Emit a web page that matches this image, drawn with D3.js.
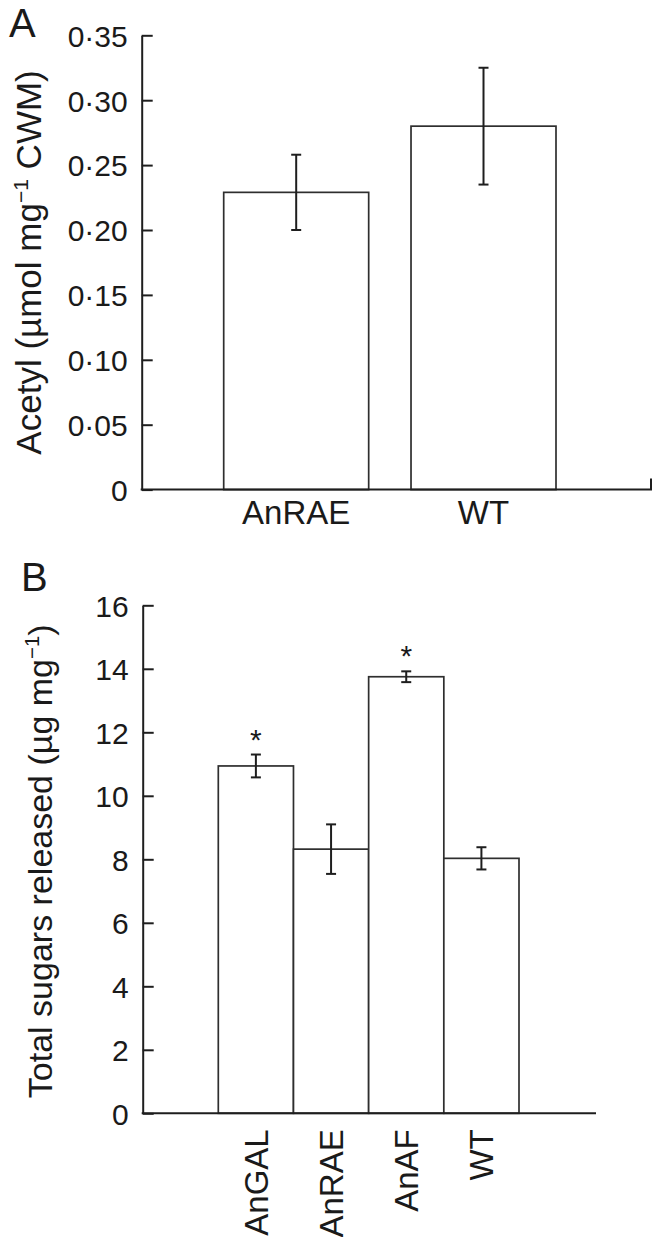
<!DOCTYPE html>
<html><head><meta charset="utf-8">
<script src="https://cdn.jsdelivr.net/npm/d3@7"></script>
<style>
html,body{margin:0;padding:0;background:#fff;}
svg text{font-family:"Liberation Sans",Arial,Helvetica,sans-serif;fill:#1a1a1a;}
</style></head>
<body>
<svg id="chart" width="653" height="1237"></svg>
<script>
// ---- Panel A data ----
const catsA = ["AnRAE", "WT"];
const valsA = [0.229, 0.280];
const errsA = [0.029, 0.045];
const ticksA = [0, 0.05, 0.10, 0.15, 0.20, 0.25, 0.30, 0.35];
const tickLabelsA = ["0", "0·05", "0·10", "0·15", "0·20", "0·25", "0·30", "0·35"];

// ---- Panel B data ----
const catsB = ["AnGAL", "AnRAE", "AnAF", "WT"];
const valsB = [10.94, 8.32, 13.75, 8.03];
const errsB = [0.36, 0.78, 0.17, 0.35];
const sigB = [true, false, true, false];
const ticksB = [0, 2, 4, 6, 8, 10, 12, 14, 16];
const tickLabelsB = ["0", "2", "4", "6", "8", "10", "12", "14", "16"];

const svg = d3.select("#chart");
const AX = "#1e1e1e", BAR = "#2e2e2e";

function panel(cfg) {
  const g = svg.append("g");
  const y = d3.scaleLinear().domain(cfg.yDomain).range(cfg.yRange);
  const x = d3.scaleBand().domain(cfg.cats).range(cfg.xRange).paddingInner(cfg.pad).paddingOuter(0);
  const data = cfg.cats.map((c, i) => ({c, v: cfg.vals[i], e: cfg.errs[i], s: cfg.sig ? cfg.sig[i] : false}));

  // bars
  g.selectAll("rect.bar").data(data).join("rect")
    .attr("x", d => x(d.c)).attr("width", x.bandwidth())
    .attr("y", d => y(d.v)).attr("height", d => y(0) - y(d.v))
    .attr("fill", "#fff").attr("stroke", BAR).attr("stroke-width", 1.7);

  // error bars
  const cap = 5;
  const eb = g.selectAll("g.err").data(data).join("g").attr("stroke", AX).attr("stroke-width", 2);
  eb.append("line").attr("x1", d => x(d.c) + x.bandwidth()/2).attr("x2", d => x(d.c) + x.bandwidth()/2)
    .attr("y1", d => y(d.v + d.e)).attr("y2", d => y(d.v - d.e));
  eb.append("line").attr("x1", d => x(d.c) + x.bandwidth()/2 - cap).attr("x2", d => x(d.c) + x.bandwidth()/2 + cap)
    .attr("y1", d => y(d.v + d.e)).attr("y2", d => y(d.v + d.e));
  eb.append("line").attr("x1", d => x(d.c) + x.bandwidth()/2 - cap).attr("x2", d => x(d.c) + x.bandwidth()/2 + cap)
    .attr("y1", d => y(d.v - d.e)).attr("y2", d => y(d.v - d.e));

  // significance
  g.selectAll("text.sig").data(data.filter(d => d.s)).join("text")
    .attr("x", d => x(d.c) + x.bandwidth()/2).attr("y", d => y(d.v + d.e) - 5)
    .attr("text-anchor", "middle").attr("font-size", 30).text("*");

  // y axis
  const ya = g.append("g").attr("transform", `translate(${cfg.axisX},0)`)
    .call(d3.axisLeft(y).tickValues(cfg.ticks).tickFormat((d, i) => cfg.tickLabels[i])
      .tickSizeInner(-11).tickSizeOuter(0).tickPadding(14));
  ya.select(".domain").attr("stroke", AX).attr("stroke-width", 2);
  ya.selectAll(".tick line").attr("stroke", AX).attr("stroke-width", 2);
  ya.selectAll(".tick text").attr("font-size", 30).attr("dy", "0.36em").attr("font-family", null).style("fill", "#1a1a1a");

  // x axis baseline
  g.append("line").attr("x1", cfg.axisX - 1).attr("x2", cfg.xEnd).attr("y1", y(0)).attr("y2", y(0))
    .attr("stroke", AX).attr("stroke-width", 2);
  if (cfg.endTick) {
    g.append("line").attr("x1", cfg.xEnd - 1).attr("x2", cfg.xEnd - 1).attr("y1", y(0)).attr("y2", y(0) - 11)
      .attr("stroke", AX).attr("stroke-width", 2);
  }

  // x labels
  const xl = g.selectAll("text.xl").data(cfg.cats).join("text").attr("font-size", 33);
  if (cfg.rotate) {
    xl.attr("transform", d => `translate(${x(d) + x.bandwidth()/2},${y(0) + 16}) rotate(-90)`)
      .attr("text-anchor", "end").attr("dy", "0.36em").text(d => d);
  } else {
    xl.attr("x", d => x(d) + x.bandwidth()/2).attr("y", y(0) + 34)
      .attr("text-anchor", "middle").text(d => d);
  }

  // y title
  const t = g.append("text").attr("font-size", cfg.titleSize)
    .attr("transform", `translate(${cfg.titleX},${(cfg.yRange[0] + cfg.yRange[1]) / 2 + cfg.titleDY}) rotate(-90)`)
    .attr("text-anchor", "middle");
  t.append("tspan").text(cfg.title[0]);
  t.append("tspan").attr("font-size", cfg.titleSize * 0.6).attr("dy", -cfg.titleSize * 0.38).text(cfg.title[1]);
  t.append("tspan").attr("dy", cfg.titleSize * 0.38).text(cfg.title[2]);

  // panel letter
  g.append("text").attr("x", cfg.letterPos[0]).attr("y", cfg.letterPos[1]).attr("font-size", 40).text(cfg.letter);
}

panel({
  cats: catsA, vals: valsA, errs: errsA, ticks: ticksA, tickLabels: tickLabelsA,
  yDomain: [0, 0.35], yRange: [489.6, 35.3], xRange: [223.7, 556], pad: 0.226,
  axisX: 141.7, xEnd: 652, endTick: true, rotate: false,
  title: ["Acetyl (µmol mg", "−1", " CWM)"], titleX: 41, titleDY: 0, titleSize: 35,
  letter: "A", letterPos: [9, 37]
});

panel({
  cats: catsB, vals: valsB, errs: errsB, sig: sigB, ticks: ticksB, tickLabels: tickLabelsB,
  yDomain: [0, 16], yRange: [1113.3, 605.3], xRange: [218.3, 519], pad: 0,
  axisX: 142.7, xEnd: 596, endTick: false, rotate: true,
  title: ["Total sugars released (µg mg", "−1", ")"], titleX: 52, titleDY: 2, titleSize: 34,
  letter: "B", letterPos: [21, 591]
});
</script>
</body></html>
